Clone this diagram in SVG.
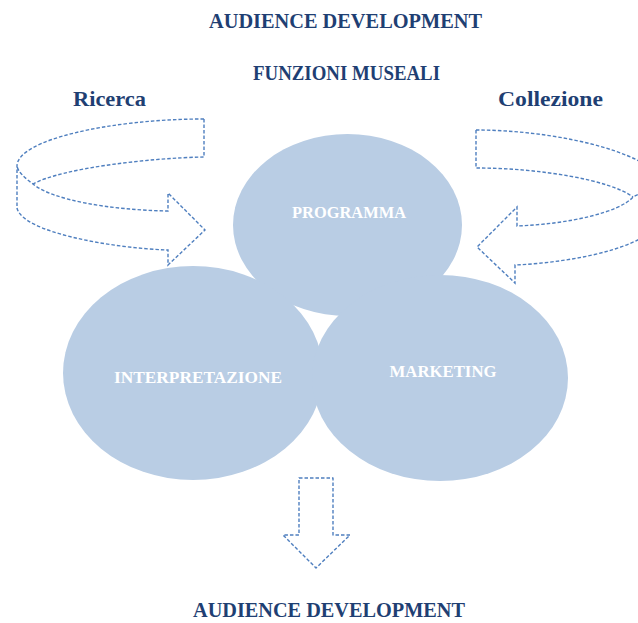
<svg xmlns="http://www.w3.org/2000/svg" width="638" height="623" viewBox="0 0 638 623">
  <style>
    .title { font-family: "Liberation Serif", "Times New Roman", serif; font-weight: bold; font-size: 20px; fill: #1f3f73; }
    .side { font-family: "Liberation Serif", "Times New Roman", serif; font-weight: bold; font-size: 20px; fill: #1f3f73; }
    .blob { fill: #b9cde4; }
    .label { font-family: "Liberation Serif", "Times New Roman", serif; font-weight: bold; font-size: 16.5px; fill: #ffffff; text-anchor: middle; }
    .flow { fill: #ffffff; stroke: #4f7fbf; stroke-width: 1.4; stroke-dasharray: 3.5 2; stroke-linejoin: round; }
    .edge { fill: none; stroke: #4f7fbf; stroke-width: 1.4; stroke-dasharray: 3.5 2; }
  </style>
  <rect width="638" height="623" fill="#ffffff"/>

  <!-- headings -->
  <text class="title" x="209" y="28" textLength="273" lengthAdjust="spacingAndGlyphs">AUDIENCE DEVELOPMENT</text>
  <text class="title" x="253" y="80" textLength="187" lengthAdjust="spacingAndGlyphs">FUNZIONI MUSEALI</text>
  <text class="side" x="73" y="106" textLength="73" lengthAdjust="spacingAndGlyphs">Ricerca</text>
  <text class="side" x="498" y="106" textLength="105" lengthAdjust="spacingAndGlyphs">Collezione</text>

  <!-- arrows -->
  <g id="connectors">
    <!-- left circular arrow: outer contour, then the inner edge of the back band -->
    <g id="arrow-ricerca">
      <path class="edge" d="M204,119 C110,119 17,140 17,166 L17,208 C22,232 110,248 168,250 L168,265 L205,230 L168,193 L168,211 C110,210 52,200 33,184 C25,178 18,172 17,166"/>
      <path class="edge" d="M204,119 L204,157 C150,158 62,168 33,184"/>
    </g>
    <!-- right circular arrow -->
    <g id="arrow-collezione">
      <path class="edge" d="M476,130 C560,130 665,155 665,190 L665,212 C660,245 580,262 515,265 L515,283 L477,247 L517,207 L517,226 C570,224 620,212 633,197 C645,190 660,192 665,190"/>
      <path class="edge" d="M476,130 L476,168 C540,168 610,180 633,197"/>
    </g>
    <!-- downward arrow -->
    <path id="arrow-down" class="flow" d="M299,478 L333,478 L333,535 L350,535 L316,568 L283,535 L299,535 Z"/>
  </g>

  <!-- function circles -->
  <g id="programma">
    <ellipse class="blob" cx="347.5" cy="225" rx="114.5" ry="91"/>
    <text class="label" x="349" y="218" textLength="114" lengthAdjust="spacingAndGlyphs">PROGRAMMA</text>
  </g>
  <g id="interpretazione">
    <ellipse class="blob" cx="193" cy="373" rx="130" ry="107"/>
  </g>
  <g id="marketing">
    <ellipse class="blob" cx="440" cy="378" rx="128" ry="103"/>
  </g>
  <text class="label" x="198" y="383" textLength="168" lengthAdjust="spacingAndGlyphs">INTERPRETAZIONE</text>
  <text class="label" x="443" y="377" textLength="107" lengthAdjust="spacingAndGlyphs">MARKETING</text>

  <text class="title" x="193" y="617" textLength="272" lengthAdjust="spacingAndGlyphs">AUDIENCE DEVELOPMENT</text>
</svg>
